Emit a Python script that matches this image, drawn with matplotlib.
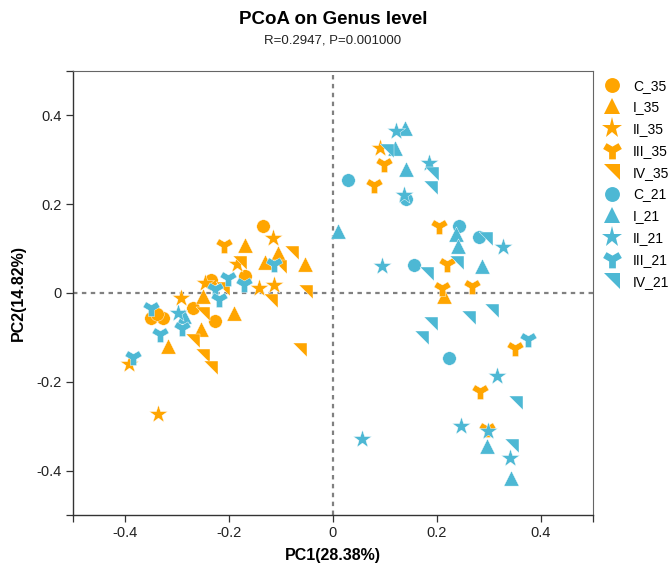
import numpy as np
import matplotlib
matplotlib.use("Agg")
import matplotlib.pyplot as plt
from matplotlib.lines import Line2D
from matplotlib.path import Path

plt.rcParams['font.family'] = ['Liberation Sans', 'DejaVu Sans']

# PCoA coordinates, one pair of arrays per group
c35_x = [-0.134, -0.170, -0.235, -0.270, -0.350, -0.327, -0.338, -0.226]
c35_y = [0.151, 0.038, 0.029, -0.034, -0.056, -0.056, -0.047, -0.063]

i35_x = [-0.170, -0.105, -0.130, -0.054, -0.191, -0.254, -0.317, -0.250, 0.214]
i35_y = [0.108, 0.090, 0.070, 0.065, -0.045, -0.081, -0.119, -0.007, -0.007]

ii35_x = [-0.115, -0.184, -0.143, -0.113, -0.247, -0.293, -0.392, -0.337, 0.090]
ii35_y = [0.124, 0.065, 0.011, 0.018, 0.023, -0.011, -0.160, -0.273, 0.327]

iii35_x = [-0.210, 0.099, 0.078, 0.203, 0.220, 0.210, 0.268, 0.350, 0.283, 0.296]
iii35_y = [0.108, 0.291, 0.243, 0.151, 0.065, 0.011, 0.016, -0.124, -0.221, -0.306]

iv35_x = [-0.078, -0.101, -0.052, -0.120, -0.212, -0.249, -0.270, -0.249, -0.235, -0.063, -0.178]
iv35_y = [0.090, 0.059, 0.002, -0.018, 0.009, -0.047, -0.108, -0.142, -0.169, -0.128, 0.068]

c21_x = [0.029, 0.141, 0.243, 0.281, 0.155, 0.224]
c21_y = [0.255, 0.212, 0.151, 0.126, 0.063, -0.146]

i21_x = [-0.287, 0.138, 0.119, 0.141, 0.010, 0.237, 0.241, 0.287, 0.296, 0.342]
i21_y = [-0.052, 0.372, 0.327, 0.279, 0.140, 0.133, 0.106, 0.061, -0.345, -0.417]

ii21_x = [-0.298, 0.122, 0.185, 0.136, 0.094, 0.327, 0.315, 0.247, 0.298, 0.340, 0.055]
ii21_y = [-0.045, 0.365, 0.293, 0.221, 0.061, 0.104, -0.187, -0.300, -0.311, -0.372, -0.329]

iii21_x = [-0.384, -0.350, -0.333, -0.291, -0.226, -0.220, -0.201, -0.172, -0.113, 0.375]
iii21_y = [-0.144, -0.034, -0.092, -0.079, 0.009, -0.014, 0.034, 0.020, 0.065, -0.104]

iv21_x = [0.103, 0.191, 0.189, 0.294, 0.239, 0.180, 0.262, 0.306, 0.189, 0.172, 0.352, 0.344]
iv21_y = [0.320, 0.268, 0.236, 0.122, 0.068, 0.043, -0.056, -0.041, -0.070, -0.101, -0.248, -0.345]

labels = ['C_35', 'I_35', 'II_35', 'III_35', 'IV_35', 'C_21', 'I_21', 'II_21', 'III_21', 'IV_21']
xs = [c35_x, i35_x, ii35_x, iii35_x, iv35_x, c21_x, i21_x, ii21_x, iii21_x, iv21_x]
ys = [c35_y, i35_y, ii35_y, iii35_y, iv35_y, c21_y, i21_y, ii21_y, iii21_y, iv21_y]

orange = '#FFA500'
blue = '#4DB8D4'

# thick "Y" marker
w = 0.38
verts = []
for a in [30, 150, 270]:
    t = np.radians(a)
    d = np.array([np.cos(t), np.sin(t)])
    n = np.array([np.sin(t), -np.cos(t)])
    verts.append(d + w * n)
    verts.append(d - w * n)
    mid = np.radians(a + 60)
    verts.append(np.array([np.cos(mid), np.sin(mid)]) * w / np.sin(np.radians(60)))
y_marker = Path(np.array(verts + [verts[0]]), closed=True)
# right triangle, corner top-right
tri_marker = Path([(-1, 1), (1, 1), (1, -1), (-1, 1)], closed=True)

markers = ['o', '^', '*', y_marker, tri_marker] * 2
sizes = [95, 120, 190, 150, 110] * 2
colors = [orange] * 5 + [blue] * 5

fig = plt.figure(figsize=(6.72, 5.64), dpi=100)
ax = fig.add_axes([0.1086, 0.0869, 0.7738, 0.7872])

ax.axvline(0, color='#808080', ls=(0, (2, 2)), lw=1.6, zorder=1)
ax.axhline(0, color='#808080', ls=(0, (2, 2)), lw=1.6, zorder=1)

for x, y, m, s, c in zip(xs, ys, markers, sizes, colors):
    ax.scatter(x, y, marker=m, s=s, color=c, edgecolors='white', linewidths=0.3, zorder=3)

ax.set_xlim(-0.5, 0.5)
ax.set_ylim(-0.5, 0.5)
ticks = [-0.5, -0.4, -0.2, 0, 0.2, 0.4, 0.5]
ticklabels = ['', '-0.4', '-0.2', '0', '0.2', '0.4', '']
ax.set_xticks(ticks)
ax.set_xticklabels(ticklabels)
ax.set_yticks(ticks)
ax.set_yticklabels(ticklabels)
ax.tick_params(direction='out', length=5, width=0.9, color='#333333',
               labelsize=10.5, labelcolor='#222222', pad=3)
for sp in ['left', 'bottom']:
    ax.spines[sp].set_color('#333333')
    ax.spines[sp].set_linewidth(1.0)
for sp in ['top', 'right']:
    ax.spines[sp].set_color('#666666')
    ax.spines[sp].set_linewidth(0.8)

ax.set_xlabel('PC1(28.38%)', fontsize=11.5, fontweight='bold', labelpad=6)
ax.set_ylabel('PC2(14.82%)', fontsize=11.5, fontweight='bold', labelpad=8)

fig.text(0.4955, 0.965, 'PCoA on Genus level', ha='center', va='center',
         fontsize=13.5, fontweight='bold')
fig.text(0.4955, 0.928, 'R=0.2947, P=0.001000', ha='center', va='center',
         fontsize=9.5, color='#222222')

handles = [Line2D([], [], ls='none', marker=m, color=c, markersize=np.sqrt(s) * 1.1,
                  markeredgewidth=0)
           for m, s, c in zip(markers, sizes, colors)]
fig.legend(handles, labels, loc='upper left', bbox_to_anchor=(0.886, 0.873),
           frameon=False, fontsize=10, handlelength=1.4, handletextpad=0.8,
           labelspacing=0.56, borderpad=0)

fig.savefig('out.png', dpi=100)
